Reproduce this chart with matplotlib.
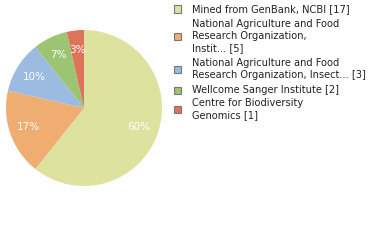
import matplotlib.pyplot as plt
from matplotlib.patches import Rectangle

labels = [
    "Mined from GenBank, NCBI [17]",
    "National Agriculture and Food\nResearch Organization,\nInstit... [5]",
    "National Agriculture and Food\nResearch Organization, Insect... [3]",
    "Wellcome Sanger Institute [2]",
    "Centre for Biodiversity\nGenomics [1]",
]
counts = [17, 5, 3, 2, 1]
colors = ["#dde39f", "#f0ad72", "#9bbbe0", "#9cc472", "#dd735a"]

W, H = 380, 240
fig = plt.figure(figsize=(W / 100, H / 100), dpi=100)

# pie: centre (84,108), radius 78 px
ax = fig.add_axes([6 / W, (H - 186) / H, 156 / W, 156 / H])
wedges, texts, autotexts = ax.pie(
    counts, colors=colors, startangle=90, counterclock=False,
    autopct=lambda p: f"{int(p)}%", pctdistance=0.75,
    wedgeprops=dict(linewidth=0), textprops=dict(color="white", fontsize=7.5))
ax.set_aspect("equal")
ax.set_xlim(-1, 1)
ax.set_ylim(-1, 1)
ax.axis("off")

# legend drawn by hand
y_top = [9, 24, 63, 90, 103]
line_h = 12.2
for lab, c, y0 in zip(labels, colors, y_top):
    n = lab.count("\n") + 1
    yc = y0 + (n - 1) * line_h / 2
    fig.patches.append(Rectangle((174 / W, 1 - (yc + 3.5) / H), 7 / W, 7 / H,
                                 transform=fig.transFigure, facecolor=c,
                                 edgecolor="#777777", linewidth=0.8))
    fig.text(192 / W, 1 - (y0 - 4.8) / H, lab, fontsize=7.1, va="top", ha="left",
             color="#222222", linespacing=1.25)

fig.savefig("out.png", dpi=100)
